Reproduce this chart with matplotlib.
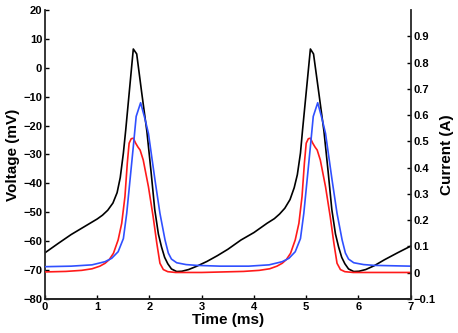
import matplotlib.pyplot as plt
from matplotlib.ticker import FuncFormatter

plt.rcParams['font.family'] = ['Liberation Sans', 'DejaVu Sans']
plt.rcParams['font.weight'] = 'bold'

# Membrane voltage (mV), black trace
t_v = [0, 0.25, 0.5, 0.75, 1.0, 1.1, 1.2, 1.3, 1.38, 1.44, 1.5, 1.545, 1.69, 1.755,
       1.85, 1.95, 2.03, 2.1, 2.17, 2.23, 2.29, 2.35, 2.42, 2.52, 2.62, 2.75, 2.9, 3.1, 3.3,
       3.5, 3.75, 4.0, 4.25, 4.39, 4.49, 4.59, 4.69, 4.77, 4.83, 4.89, 4.93, 5.08, 5.14,
       5.24, 5.34, 5.42, 5.49, 5.56, 5.62, 5.68, 5.74, 5.81, 5.91, 6.01, 6.14, 6.3, 6.5, 6.75, 7.0]
voltage = [-64, -60.8, -57.7, -55, -52.3, -51.0, -49.3, -46.8, -43.2, -38.0, -29.5, -21.5, 6.5, 4.8,
           -8.5, -22, -36, -49, -57.5, -62, -65.6, -67.8, -69.6, -70.5, -70.4, -69.8, -68.7, -67, -65,
           -62.8, -59.6, -57, -53.8, -52.2, -50.6, -48.6, -45.6, -41.5, -37.0, -29.5, -21.5, 6.5, 4.8,
           -8.5, -22, -36, -49, -57.5, -62, -65.6, -67.8, -69.6, -70.5, -70.4, -69.8, -68.5, -66.4, -64, -61.7]

# Current (A), red trace
t_red = [0, 0.4, 0.7, 0.9, 1.05, 1.15, 1.23, 1.31, 1.40, 1.468, 1.53, 1.575, 1.61, 1.65,
         1.69, 1.735, 1.78, 1.82, 1.88, 1.98, 2.07, 2.14, 2.2, 2.265, 2.35, 2.5, 3.0,
         3.4, 3.8, 4.1, 4.3, 4.44, 4.54, 4.62, 4.70, 4.79, 4.86, 4.92, 4.965, 5.0,
         5.04, 5.08, 5.125, 5.17, 5.21, 5.27, 5.37, 5.46, 5.53, 5.59, 5.655, 5.74, 5.9, 7.0]
i_red = [0.003, 0.005, 0.009, 0.015, 0.025, 0.036, 0.05, 0.074, 0.125, 0.188, 0.29, 0.417, 0.493, 0.51,
         0.512, 0.493, 0.478, 0.467, 0.429, 0.327, 0.213, 0.112, 0.036, 0.012, 0.004, 0.001, 0.001,
         0.003, 0.005, 0.009, 0.015, 0.025, 0.036, 0.05, 0.074, 0.125, 0.188, 0.29, 0.417, 0.493,
         0.51, 0.512, 0.493, 0.478, 0.467, 0.429, 0.327, 0.213, 0.112, 0.036, 0.012, 0.004, 0.001, 0.001]

# Current (A), blue trace
t_blue = [0, 0.5, 0.9, 1.148, 1.277, 1.40, 1.50, 1.564, 1.627, 1.69, 1.745, 1.83, 1.91,
          1.98, 2.105, 2.2, 2.297, 2.36, 2.42, 2.52, 2.7, 2.9, 3.35,
          3.9, 4.29, 4.54, 4.67, 4.79, 4.89, 4.954, 5.017, 5.08, 5.135, 5.22, 5.30,
          5.37, 5.495, 5.59, 5.687, 5.75, 5.81, 5.91, 6.1, 6.3, 7.0]
i_blue = [0.023, 0.025, 0.03, 0.042, 0.055, 0.08, 0.13, 0.226, 0.353, 0.48, 0.595, 0.647, 0.588,
          0.53, 0.353, 0.226, 0.125, 0.075, 0.052, 0.038, 0.031, 0.028, 0.025,
          0.025, 0.03, 0.042, 0.055, 0.08, 0.13, 0.226, 0.353, 0.48, 0.595, 0.647, 0.588,
          0.53, 0.353, 0.226, 0.125, 0.075, 0.052, 0.038, 0.031, 0.028, 0.025]

v_ticks = [-80, -70, -60, -50, -40, -30, -20, -10, 0, 10, 20]
i_ticks = [-0.1, 0, 0.1, 0.2, 0.3, 0.4, 0.5, 0.6, 0.7, 0.8, 0.9]
t_ticks = [0, 1, 2, 3, 4, 5, 6, 7]

fig = plt.figure(figsize=(4.58, 3.33), dpi=100)
ax = fig.add_axes([0.0983, 0.1021, 0.7984, 0.8679])
ax2 = ax.twinx()

ax.plot(t_v, voltage, color='black', lw=1.2)
ax2.plot(t_red, i_red, color='#ff1a1a', lw=1.2)
ax2.plot(t_blue, i_blue, color='#3050ff', lw=1.2)

ax.set_xlim(0, 7)
ax.set_ylim(-80, 20)
ax2.set_ylim(-0.1, 1.0)
ax.set_xticks(t_ticks)
ax.set_yticks(v_ticks)
ax2.set_yticks(i_ticks)
ax2.yaxis.set_major_formatter(FuncFormatter(lambda x, p: '0' if abs(x) < 1e-9 else f'{x:.1f}'.replace('-', '\u2212')))

for a in (ax, ax2):
    a.spines['top'].set_visible(False)
    for s in a.spines.values():
        s.set_linewidth(1.3)
        s.set_color('#262626')
    a.tick_params(direction='in', length=3, width=1, labelsize=8, pad=2, colors='black')
ax2.spines['left'].set_visible(False)
ax.spines['right'].set_visible(False)

ax.set_xlabel('Time (ms)', fontsize=11, fontweight='bold', labelpad=1)
ax.set_ylabel('Voltage (mV)', fontsize=11, fontweight='bold', labelpad=2)
ax2.set_ylabel('Current (A)', fontsize=11, fontweight='bold', labelpad=3)

fig.savefig('out.png', dpi=100)
